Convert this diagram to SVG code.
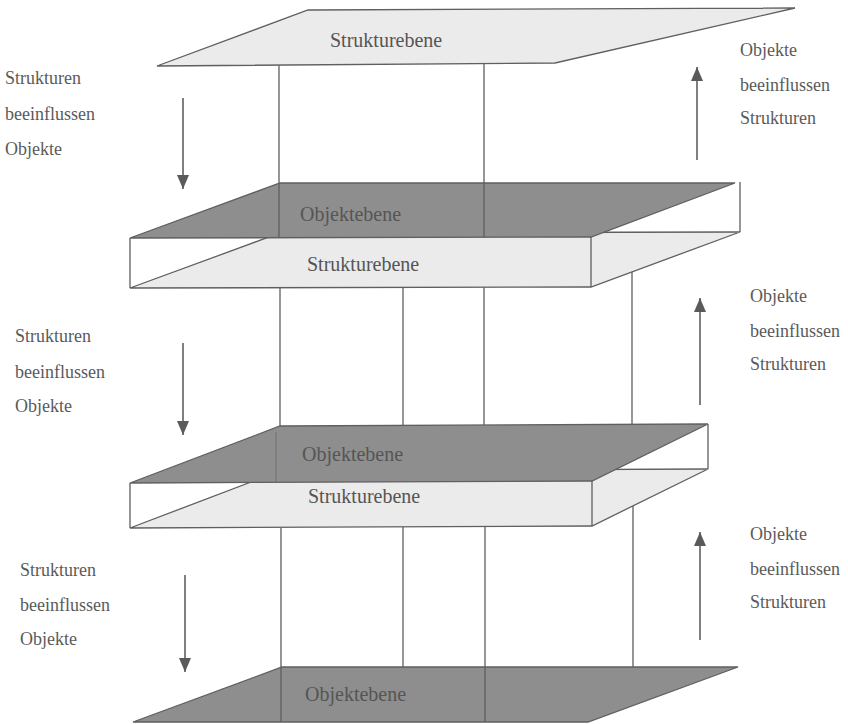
<svg xmlns="http://www.w3.org/2000/svg" width="848" height="724" viewBox="0 0 848 724">
  <defs>
    <marker id="head" viewBox="0 0 14 12" refX="14" refY="6" markerWidth="14" markerHeight="12" markerUnits="userSpaceOnUse" orient="auto">
      <path d="M0,0 L14,6 L0,12 Z" fill="#5a5a5a"/>
    </marker>
    <style>
      .edge { stroke: #5f5f5f; stroke-width: 1.3; fill: none; }
      .light { fill: #ebebeb; stroke: #5f5f5f; stroke-width: 1.3; }
      .dark { fill: #8e8e8e; stroke: #5f5f5f; stroke-width: 1.3; }
      .arrow { stroke: #5f5f5f; stroke-width: 1.6; fill: none; }
    </style>
  </defs>
  <rect width="848" height="724" fill="#ffffff"/>

  <!-- top structure plane -->
  <g id="struktur-top">
    <polygon class="light" points="308,10 795,8 555,63 157,66"/>
    <text x="330" y="47" font-size="20" fill="#555" style="font-family: 'Liberation Serif', serif">Strukturebene</text>
  </g>

  <!-- slab 1: object plane on top, structure plane underneath -->
  <g id="slab-1">
    <polygon class="light" points="280,233 740,232 591,287 130,288"/>
    <polygon class="dark" points="280,183 735,183 591,237 130,238"/>
    <line class="edge" x1="130" y1="238" x2="130" y2="288"/>
    <line class="edge" x1="591" y1="237" x2="591" y2="287"/>
    <line class="edge" x1="740" y1="182" x2="740" y2="232"/>
    <text x="300" y="221" font-size="20" fill="#555" style="font-family: 'Liberation Serif', serif">Objektebene</text>
    <text x="307" y="271" font-size="20" fill="#555" style="font-family: 'Liberation Serif', serif">Strukturebene</text>
  </g>

  <!-- slab 2 -->
  <g id="slab-2">
    <polygon class="light" points="280,471 708,469 592,526 130,528"/>
    <polygon class="dark" points="280,426 708,424 592,481 130,483"/>
    <line x1="276" y1="432" x2="276" y2="482" stroke="#6e6e6e" stroke-width="1.5" opacity="0.6"/>
    <line class="edge" x1="130" y1="483" x2="130" y2="528"/>
    <line class="edge" x1="592" y1="481" x2="592" y2="526"/>
    <line class="edge" x1="708" y1="424" x2="708" y2="469"/>
    <text x="302" y="461" font-size="20" fill="#555" style="font-family: 'Liberation Serif', serif">Objektebene</text>
    <text x="308" y="503" font-size="20" fill="#555" style="font-family: 'Liberation Serif', serif">Strukturebene</text>
  </g>

  <!-- bottom object plane -->
  <g id="objekt-bottom">
    <polygon class="dark" points="282,667 738,667 588,722 133,722"/>
    <text x="305" y="701" font-size="20" fill="#555" style="font-family: 'Liberation Serif', serif">Objektebene</text>
  </g>

  <!-- pillars between the levels -->
  <g id="connectors">
    <line class="edge" x1="279" y1="65.5" x2="279" y2="238"/>
    <line class="edge" x1="484" y1="63.5" x2="484" y2="237.5"/>

    <line class="edge" x1="280" y1="288" x2="280" y2="426"/>
    <line class="edge" x1="403" y1="288" x2="403" y2="425"/>
    <line class="edge" x1="484" y1="287.5" x2="484" y2="425"/>
    <line class="edge" x1="632" y1="272" x2="632" y2="424"/>

    <line class="edge" x1="281" y1="528" x2="281" y2="722"/>
    <line class="edge" x1="403" y1="527" x2="403" y2="667"/>
    <line class="edge" x1="485" y1="527" x2="485" y2="722"/>
    <line class="edge" x1="633" y1="506" x2="633" y2="667"/>

    <!-- influence arrows -->
    <line class="arrow" x1="183" y1="98" x2="183" y2="189" marker-end="url(#head)"/>
    <line class="arrow" x1="183" y1="343" x2="183" y2="435" marker-end="url(#head)"/>
    <line class="arrow" x1="185" y1="575" x2="185" y2="672" marker-end="url(#head)"/>
    <line class="arrow" x1="697" y1="160" x2="697" y2="67" marker-end="url(#head)"/>
    <line class="arrow" x1="700" y1="405" x2="700" y2="298" marker-end="url(#head)"/>
    <line class="arrow" x1="700" y1="640" x2="700" y2="532" marker-end="url(#head)"/>
  </g>

  <!-- side labels -->
  <g id="label-left-1" font-size="18" fill="#5a5a5a">
    <text x="5" y="84" style="font-family: 'Liberation Serif', serif">Strukturen</text>
    <text x="5" y="120" style="font-family: 'Liberation Serif', serif">beeinflussen</text>
    <text x="5" y="155" style="font-family: 'Liberation Serif', serif">Objekte</text>
  </g>
  <g id="label-left-2" font-size="18" fill="#5a5a5a">
    <text x="15" y="342" style="font-family: 'Liberation Serif', serif">Strukturen</text>
    <text x="15" y="378" style="font-family: 'Liberation Serif', serif">beeinflussen</text>
    <text x="15" y="412" style="font-family: 'Liberation Serif', serif">Objekte</text>
  </g>
  <g id="label-left-3" font-size="18" fill="#5a5a5a">
    <text x="20" y="576" style="font-family: 'Liberation Serif', serif">Strukturen</text>
    <text x="20" y="611" style="font-family: 'Liberation Serif', serif">beeinflussen</text>
    <text x="20" y="645" style="font-family: 'Liberation Serif', serif">Objekte</text>
  </g>
  <g id="label-right-1" font-size="18" fill="#5a5a5a">
    <text x="740" y="56" style="font-family: 'Liberation Serif', serif">Objekte</text>
    <text x="740" y="91" style="font-family: 'Liberation Serif', serif">beeinflussen</text>
    <text x="740" y="124" style="font-family: 'Liberation Serif', serif">Strukturen</text>
  </g>
  <g id="label-right-2" font-size="18" fill="#5a5a5a">
    <text x="750" y="302" style="font-family: 'Liberation Serif', serif">Objekte</text>
    <text x="750" y="337" style="font-family: 'Liberation Serif', serif">beeinflussen</text>
    <text x="750" y="370" style="font-family: 'Liberation Serif', serif">Strukturen</text>
  </g>
  <g id="label-right-3" font-size="18" fill="#5a5a5a">
    <text x="750" y="540" style="font-family: 'Liberation Serif', serif">Objekte</text>
    <text x="750" y="575" style="font-family: 'Liberation Serif', serif">beeinflussen</text>
    <text x="750" y="608" style="font-family: 'Liberation Serif', serif">Strukturen</text>
  </g>
</svg>
